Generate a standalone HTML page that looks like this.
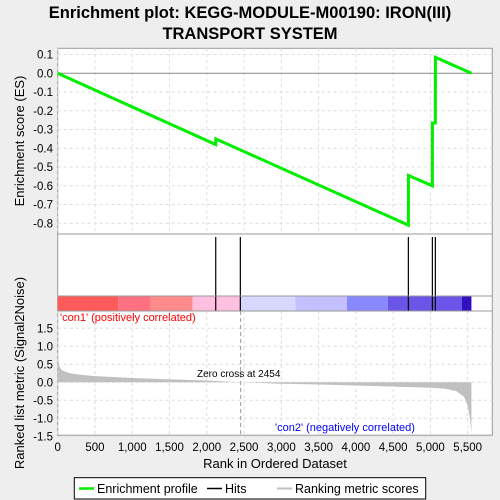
<!DOCTYPE html>
<html><head><meta charset="utf-8"><style>
body{margin:0;background:#eeeeee;}
svg{display:block;font-family:"Liberation Sans","DejaVu Sans",sans-serif;}
</style></head><body>
<svg id="c" width="500" height="500" xmlns="http://www.w3.org/2000/svg">
<rect width="500" height="500" fill="#eeeeee"/>
<text x="250" y="18" text-anchor="middle" font-size="16.5" font-weight="bold">Enrichment plot: KEGG-MODULE-M00190: IRON(III)</text>
<text x="250" y="39" text-anchor="middle" font-size="16.5" font-weight="bold">TRANSPORT SYSTEM</text>
<rect x="57.7" y="48.3" width="434.6" height="386.9" fill="#fff" stroke="#999"/>
<g id="grid"></g>
<g id="marks"></g>
<g id="axes"></g>
<g>
<rect x="74.3" y="477.7" width="351.4" height="21.3" fill="#fff" stroke="#000"/>
<line x1="79" y1="488.5" x2="94" y2="488.5" stroke="#00ee00" stroke-width="2.5"/>
<text x="97" y="493" font-size="12.5">Enrichment profile</text>
<line x1="207" y1="488.5" x2="222" y2="488.5" stroke="#000" stroke-width="1.5"/>
<text x="225" y="493" font-size="12.5">Hits</text>
<line x1="277" y1="488.5" x2="292" y2="488.5" stroke="#c0c0c0" stroke-width="2"/>
<text x="295" y="493" font-size="12.5">Ranking metric scores</text>
</g>
</svg>
<script>
const esRanks=[0,2120,2121,4704,4705,5026,5027,5066,5067,5550];
const esValues=[0,-0.38,-0.35,-0.81,-0.545,-0.60,-0.265,-0.265,0.085,0];
const hitRanks=[2120,2450,4704,5026,5066];
const metricRanks=[0,20,60,150,300,500,1000,1500,2000,2454,3000,3500,4000,4500,5000,5200,5350,5450,5500,5530,5550];
const metricValues=[0.72,0.45,0.33,0.26,0.21,0.17,0.12,0.08,0.05,0,-0.04,-0.06,-0.09,-0.12,-0.15,-0.18,-0.25,-0.4,-0.65,-1.0,-1.4];
const barEdges=[0,810,1250,1810,2450,3190,3880,4430,5420,5550];
const barColors=["#ff5a5a","#ff7080","#ff8c8c","#ffc0e0","#d8d8ff","#c4c0ff","#8888ff","#6a55e8","#3010c0"];
const xTicks=[0,500,1000,1500,2000,2500,3000,3500,4000,4500,5000,5500];
const esTicks=[0.1,0,-0.1,-0.2,-0.3,-0.4,-0.5,-0.6,-0.7,-0.8];
const mTicks=[1.5,1.0,0.5,0,-0.5,-1.0,-1.5];
const NS="http://www.w3.org/2000/svg";
const xS=r=>57.7+r*410/5500;
const yES=v=>73.3-v*187.5;
const yM=v=>382.3-v*36;
function mk(t,a,p){const e=document.createElementNS(NS,t);for(const k in a)e.setAttribute(k,a[k]);p.appendChild(e);return e;}
const grid=document.getElementById('grid'),marks=document.getElementById('marks'),axes=document.getElementById('axes');
xTicks.forEach(t=>{
 const g1=mk('line',{x1:xS(t),x2:xS(t),y1:48.3,y2:234,stroke:'#ddd','stroke-dasharray':'3,3'},grid);
 
 
 const g2=mk('line',{x1:xS(t),x2:xS(t),y1:311,y2:435,stroke:'#ddd','stroke-dasharray':'3,3'},grid);
 
 
 const tx=mk('text',{x:xS(t),y:451,'text-anchor':'middle','font-size':'11.5'},axes);
 tx.textContent=t.toLocaleString('en-US');
 
 
});
esTicks.forEach(t=>{
 const g=mk('line',{x1:57.7,x2:492.3,y1:yES(t),y2:yES(t),stroke:t===0?'#888':'#ddd','stroke-dasharray':t===0?'':'3,3'},grid);
 
 
 const tx=mk('text',{x:53,y:yES(t)+4,'text-anchor':'end','font-size':'11.5'},axes);
 tx.textContent=t.toFixed(1);
 
 
});
mTicks.forEach(t=>{
 const g=mk('line',{x1:57.7,x2:492.3,y1:yM(t),y2:yM(t),stroke:'#ddd','stroke-dasharray':'3,3'},grid);
 
 
 const tx=mk('text',{x:53,y:yM(t)+4,'text-anchor':'end','font-size':'11.5'},axes);
 tx.textContent=t.toFixed(1);
 
 
});
// panel separators
[234,296,311].forEach(y=>{const l=mk('line',{x1:57.7,x2:492.3,y1:y,y2:y,stroke:'#999'},axes);
 
 });
// metric area
let pts=metricRanks.map((r,i)=>xS(r)+','+yM(metricValues[i]));
pts.push(xS(metricRanks[metricRanks.length-1])+','+yM(0));pts.push(xS(0)+','+yM(0));
const area=mk('polygon',{points:pts.join(' '),fill:'#c0c0c0'},marks);


// zero cross
const zc=mk('line',{x1:xS(2454),x2:xS(2454),y1:311,y2:435,stroke:'#999','stroke-dasharray':'4,3'},marks);


const zt=mk('text',{x:197,y:377,'font-size':'10'},marks);zt.textContent='Zero cross at 2454';


// color bar
barColors.forEach((c,i)=>{const r=mk('rect',{x:xS(barEdges[i]),y:296,width:xS(barEdges[i+1])-xS(barEdges[i]),height:15,fill:c},marks);
 
 });
const c1=mk('text',{x:60,y:321,'font-size':'11',fill:'#ff0000'},marks);c1.textContent="'con1' (positively correlated)";


const c2=mk('text',{x:275,y:431,'font-size':'11',fill:'#0000ff'},marks);c2.textContent="'con2' (negatively correlated)";


// hits
hitRanks.forEach(r=>{const l=mk('line',{x1:xS(r),x2:xS(r),y1:237,y2:311,stroke:'#000','stroke-width':1.2},marks);
 
 });
// ES line
const es=mk('polyline',{points:esRanks.map((r,i)=>xS(r)+','+yES(esValues[i])).join(' '),fill:'none',stroke:'#00ee00','stroke-width':3},marks);


// axis titles
const t1=mk('text',{x:0,y:0,'font-size':'13','text-anchor':'middle',transform:'translate(24,141) rotate(-90)'},axes);t1.textContent='Enrichment score (ES)';


const t2=mk('text',{x:0,y:0,'font-size':'13','text-anchor':'middle',transform:'translate(24,373) rotate(-90)'},axes);t2.textContent='Ranked list metric (Signal2Noise)';


const t3=mk('text',{x:275,y:468,'font-size':'13','text-anchor':'middle'},axes);t3.textContent='Rank in Ordered Dataset';


</script>
</body></html>
